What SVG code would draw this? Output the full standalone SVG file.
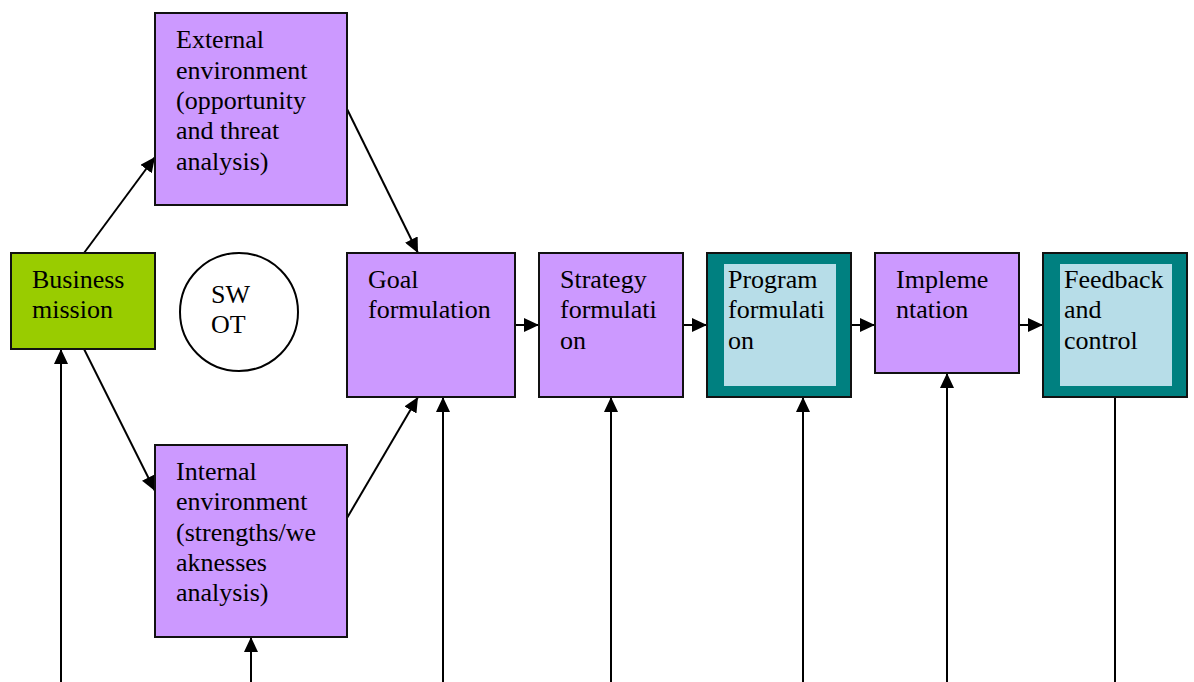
<svg xmlns="http://www.w3.org/2000/svg" width="1194" height="682" viewBox="0 0 1194 682">
<style>
.box{stroke:#111;stroke-width:2}
.purple{fill:#CC99FF}
.green{fill:#99CC00}
.teal{fill:#008080}
.inner{fill:#B7DDE8}
text{font-family:'Liberation Serif','Times New Roman','DejaVu Serif',serif;font-size:26px;fill:#000}
.c{fill:none;stroke:#000;stroke-width:2}
</style>
<defs>
<marker id="ah" markerUnits="userSpaceOnUse" markerWidth="16" markerHeight="14" refX="15" refY="7" orient="auto">
<path d="M0,0 L15,7 L0,14 Z" fill="#000"/>
</marker>
</defs>
<rect width="1194" height="682" fill="#fff"/>
<g id="connectors">
<line class="c" x1="84" y1="253" x2="155" y2="157" marker-end="url(#ah)"/>
<line class="c" x1="84" y1="349" x2="155" y2="491" marker-end="url(#ah)"/>
<line class="c" x1="347" y1="109" x2="418" y2="253" marker-end="url(#ah)"/>
<line class="c" x1="347" y1="518" x2="418" y2="397" marker-end="url(#ah)"/>
<line class="c" x1="515" y1="325" x2="539" y2="325" marker-end="url(#ah)"/>
<line class="c" x1="683" y1="325" x2="707" y2="325" marker-end="url(#ah)"/>
<line class="c" x1="851" y1="325" x2="875" y2="325" marker-end="url(#ah)"/>
<line class="c" x1="1019" y1="325" x2="1043" y2="325" marker-end="url(#ah)"/>
<line class="c" x1="61" y1="682" x2="61" y2="349" marker-end="url(#ah)"/>
<line class="c" x1="251" y1="682" x2="251" y2="637" marker-end="url(#ah)"/>
<line class="c" x1="443" y1="682" x2="443" y2="397" marker-end="url(#ah)"/>
<line class="c" x1="611" y1="682" x2="611" y2="397" marker-end="url(#ah)"/>
<line class="c" x1="803" y1="682" x2="803" y2="397" marker-end="url(#ah)"/>
<line class="c" x1="947" y1="682" x2="947" y2="373" marker-end="url(#ah)"/>
<line class="c" x1="1115" y1="397" x2="1115" y2="682"/>
</g>
<g id="business-mission">
<rect class="box green" x="11" y="253" width="144" height="96"/>
<text x="32" y="288">Business</text>
<text x="32" y="318">mission</text>
</g>
<g id="swot">
<circle cx="239" cy="312" r="59" fill="#fff" stroke="#000" stroke-width="2"/>
<text x="211" y="303">SW</text>
<text x="211" y="333">OT</text>
</g>
<g id="external">
<rect class="box purple" x="155" y="13" width="192" height="192"/>
<text x="176" y="48">External</text>
<text x="176" y="79">environment</text>
<text x="176" y="109">(opportunity</text>
<text x="176" y="139">and threat</text>
<text x="176" y="170">analysis)</text>
</g>
<g id="internal">
<rect class="box purple" x="155" y="445" width="192" height="192"/>
<text x="176" y="480">Internal</text>
<text x="176" y="510">environment</text>
<text x="176" y="541">(strengths/we</text>
<text x="176" y="571">aknesses</text>
<text x="176" y="601">analysis)</text>
</g>
<g id="goal">
<rect class="box purple" x="347" y="253" width="168" height="144"/>
<text x="368" y="288">Goal</text>
<text x="368" y="318">formulation</text>
</g>
<g id="strategy">
<rect class="box purple" x="539" y="253" width="144" height="144"/>
<text x="560" y="288">Strategy</text>
<text x="560" y="318">formulati</text>
<text x="560" y="349">on</text>
</g>
<g id="program">
<rect class="box teal" x="707" y="253" width="144" height="144"/>
<rect class="inner" x="724" y="264" width="112" height="122"/>
<text x="728" y="288">Program</text>
<text x="728" y="318">formulati</text>
<text x="728" y="349">on</text>
</g>
<g id="implementation">
<rect class="box purple" x="875" y="253" width="144" height="120"/>
<text x="896" y="288">Impleme</text>
<text x="896" y="318">ntation</text>
</g>
<g id="feedback">
<rect class="box teal" x="1043" y="253" width="144" height="144"/>
<rect class="inner" x="1060" y="264" width="112" height="122"/>
<text x="1064" y="288">Feedback</text>
<text x="1064" y="318">and</text>
<text x="1064" y="349">control</text>
</g>
</svg>
